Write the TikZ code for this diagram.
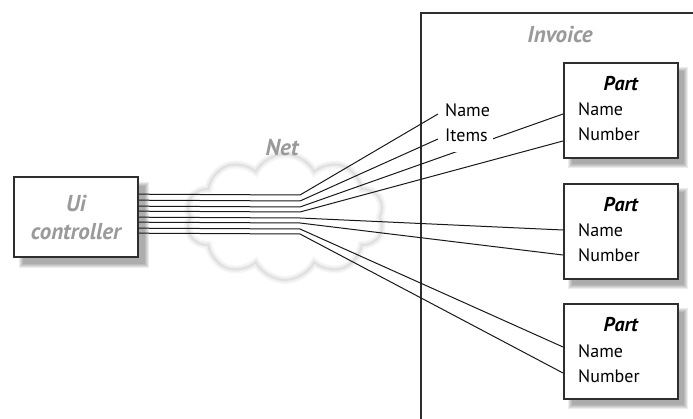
\documentclass[tikz,border=0pt]{standalone}
\usepackage{fontspec}
\setmainfont{PT Sans}
\usetikzlibrary{shapes.symbols,calc}
\definecolor{lblgray}{HTML}{9A9A9A}
\definecolor{boxline}{HTML}{2E2E2E}
\newcommand\softshadow[1]{%
  \foreach \k in {0,...,4}{%
    \fill[black,opacity=0.075] ($(#1.north west)+(5+\k,5+\k)$) rectangle ($(#1.south east)+(11-\k,11-\k)$);
  }%
}
\begin{document}
\begin{tikzpicture}[x=1pt,y=-1pt,
  box/.style={draw=boxline, line width=1.6pt, fill=white, inner sep=0pt},
  conn/.style={draw=black!90, line width=1pt},
  glbl/.style={text=lblgray, font=\fontsize{23}{28}\selectfont\bfseries\itshape},
  ttl/.style={font=\fontsize{20}{22}\selectfont\bfseries\itshape, inner sep=0pt},
  txt/.style={font=\fontsize{18}{22}\selectfont, inner sep=0pt},
  flab/.style={font=\fontsize{18}{22}\selectfont, fill=white, inner xsep=5pt, inner ysep=10pt},
  netcloud/.style={cloud, cloud puffs=10, cloud puff arc=125, aspect=1.75,
    minimum width=198, minimum height=126, inner sep=0pt,
    preaction={fill=white},
    preaction={draw=gray!7, line width=8pt},
    preaction={draw=gray!13, line width=5pt},
    draw=gray!24, line width=2pt},
]
\useasboundingbox (0,0) rectangle (693,419);
\clip (0,0) rectangle (693,419);

% invoice container
\node[box, anchor=north west, minimum width=300, minimum height=430] (invoice) at (420,12) {};
\node[glbl, anchor=base] (invlbl) at (560,43) {Invoice};

% cloud
\node[netcloud] (net) at (285,217) {};
\node[glbl, anchor=base] (netlbl) at (282,156) {Net};

% UI controller
\coordinate (uic) at (76,217);
\path (uic) node[minimum width=124, minimum height=80, inner sep=0pt] (uibb) {};
\softshadow{uibb}
\node[box, minimum width=124, minimum height=80, glbl, align=center] (ui) at (uic) {Ui\\controller};

% part boxes
\foreach \n/\t in {1/62, 2/183, 3/303}{
  \path (563,\t) node[anchor=north west, minimum width=114, minimum height=95, inner sep=0pt] (pbb\n) {};
  \softshadow{pbb\n}
  \node[box, anchor=north west, minimum width=114, minimum height=95] (part\n) at (563,\t) {};
  \node[ttl, anchor=base] (ptitle\n) at ($(part\n.north)+(0,29)$) {Part};
  \node[txt, anchor=base west] (pname\n) at ($(part\n.north west)+(15,54)$) {Name};
  \node[txt, anchor=base west] (pnum\n) at ($(part\n.north west)+(15,79)$) {Number};
}

% start and bend points
\foreach \i/\y in {1/195, 2/201, 3/207, 4/212, 5/218, 6/223, 7/229, 8/234}{
  \coordinate (s\i) at ($(ui.north east)+(0,\y-177)$);
  \coordinate (b\i) at (300,\y);
}
% ends
\coordinate (e3) at ($(part1.north west)+(0,52)$);
\coordinate (e4) at ($(part1.north west)+(0,79)$);
\coordinate (e5) at ($(part2.north west)+(0,47)$);
\coordinate (e6) at ($(part2.north west)+(0,72)$);
\coordinate (e7) at ($(part3.north west)+(0,44)$);
\coordinate (e8) at ($(part3.north west)+(0,70)$);

\foreach \i in {3,...,8}{
  \draw[conn] (s\i) -- (b\i) -- (e\i);
}

% invoice fields
\node[flab, anchor=base west] (fname) at (440,117) {Name};
\node[flab, anchor=base west] (fitems) at (440,142) {Items};
\coordinate (e1) at ($(fname.base west)+(-2,-3)$);
\coordinate (e2) at ($(fitems.base west)+(-2,-3)$);
\draw[conn] (s1) -- (b1) -- (e1);
\draw[conn] (s2) -- (b2) -- (e2);
\end{tikzpicture}
\end{document}
